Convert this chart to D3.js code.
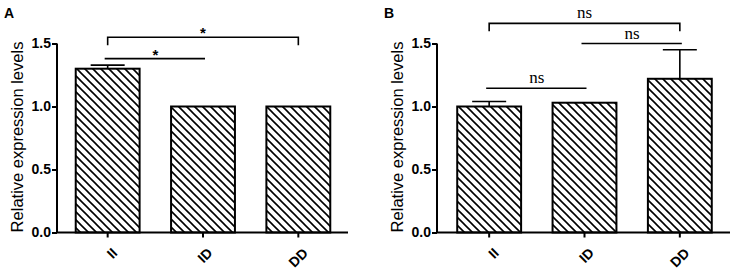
<!DOCTYPE html>
<html><head><meta charset="utf-8">
<script src="https://cdn.jsdelivr.net/npm/d3@7/dist/d3.min.js"></script>
<style>html,body{margin:0;padding:0;background:#fff;}svg{display:block;}</style>
</head><body>
<script>
const categories = ["II", "ID", "DD"];
const yTicks = [0, 0.5, 1.0, 1.5];
const valuesA = [1.30, 1.0, 1.0];
const errorsA = [0.028, 0, 0];
const valuesB = [1.0, 1.03, 1.22];
const errorsB = [0.04, 0, 0.23];
const sigA = [
  {from: "II", to: "DD", label: "*", bracket: true, level: 1.55},
  {from: "II", to: "ID", label: "*", bracket: false, level: 1.38}
];
const sigB = [
  {from: "II", to: "DD", label: "ns", bracket: true, level: 1.66},
  {from: "ID", to: "DD", label: "ns", bracket: false, level: 1.5},
  {from: "II", to: "ID", label: "ns", bracket: false, level: 1.145}
];

const W = 734, H = 275;
const FONT = "'Liberation Sans', Arial, sans-serif";
const svg = d3.select("body").append("svg").attr("width", W).attr("height", H);
const defs = svg.append("defs");
const pat = defs.append("pattern").attr("id", "hatch").attr("patternUnits", "userSpaceOnUse")
  .attr("width", 8).attr("height", 8);
pat.append("rect").attr("width", 8).attr("height", 8).attr("fill", "#fff");
pat.append("path").attr("d", "M-2,-2 L10,10 M-2,6 L2,10 M6,-2 L10,2")
  .attr("stroke", "#000").attr("stroke-width", 1.6);

function panel(opt) {
  const g = svg.append("g");
  const y = d3.scaleLinear().domain([0, 1.5]).range([232.5, 43.5]);
  const x = d3.scaleBand().domain(categories).range([opt.x0, opt.x1]).paddingInner(0.33).paddingOuter(0.165);
  // bars
  g.selectAll("rect.bar").data(categories).join("rect").attr("class", "bar")
    .attr("x", d => x(d)).attr("width", x.bandwidth())
    .attr("y", (d, i) => y(opt.values[i])).attr("height", (d, i) => y(0) - y(opt.values[i]))
    .attr("fill", "url(#hatch)").attr("stroke", "#000").attr("stroke-width", 2);
  // error bars
  categories.forEach((c, i) => {
    if (opt.errors[i] > 0) {
      const cx = x(c) + x.bandwidth() / 2;
      g.append("line").attr("x1", cx).attr("x2", cx).attr("y1", y(opt.values[i])).attr("y2", y(opt.values[i] + opt.errors[i]))
        .attr("stroke", "#000").attr("stroke-width", 1.6);
      g.append("line").attr("x1", cx - 17).attr("x2", cx + 17).attr("y1", y(opt.values[i] + opt.errors[i])).attr("y2", y(opt.values[i] + opt.errors[i]))
        .attr("stroke", "#000").attr("stroke-width", 1.6);
    }
  });
  // y axis
  const ya = g.append("g").attr("transform", `translate(${opt.ax},0)`)
    .call(d3.axisLeft(y).tickValues(yTicks).tickFormat(d3.format(".1f")).tickSize(5).tickSizeOuter(0));
  ya.select(".domain").attr("stroke-width", 2).attr("d", `M0,${y(1.5)}V${y(0)}`);
  ya.selectAll(".tick line").attr("stroke-width", 2);
  ya.selectAll(".tick text").attr("font-family", FONT).attr("font-weight", "bold")
    .attr("font-size", 14).attr("x", -6).attr("fill", "#000");
  // x axis
  const xa = g.append("g").attr("transform", `translate(0,${y(0)})`)
    .call(d3.axisBottom(x).tickSize(5).tickSizeOuter(0));
  xa.select(".domain").attr("stroke-width", 2).attr("d", `M${opt.ax - 1},0H${opt.axEnd}`);
  xa.selectAll(".tick line").attr("stroke-width", 2);
  xa.selectAll(".tick text").attr("font-family", FONT).attr("font-weight", "bold")
    .attr("font-size", 14).attr("fill", "#000")
    .attr("text-anchor", "end").attr("dy", "0.35em")
    .attr("transform", "translate(7,18) rotate(-45)").attr("x", 0).attr("y", 0);
  // y title
  g.append("text").attr("transform", `translate(${opt.ax - 34},${(y(0) + y(1.5)) / 2 - 1}) rotate(-90)`)
    .attr("text-anchor", "middle").attr("font-family", FONT)
    .attr("font-size", 16.5).text("Relative expression levels");
  // panel label
  g.append("text").attr("x", opt.lx).attr("y", 18).attr("font-family", FONT)
    .attr("font-weight", "bold").attr("font-size", 14).text(opt.label);
  // significance
  opt.sig.forEach(s => {
    const xa1 = x(s.from) + x.bandwidth() / 2, xb1 = x(s.to) + x.bandwidth() / 2;
    const yy = y(s.level);
    if (s.bracket) {
      g.append("path").attr("d", `M${xa1},${yy + 8}V${yy}H${xb1}V${yy + 8}`).attr("fill", "none")
        .attr("stroke", "#000").attr("stroke-width", 1.6);
    } else {
      g.append("line").attr("x1", xa1 - 3).attr("x2", xb1 + 2).attr("y1", yy).attr("y2", yy)
        .attr("stroke", "#000").attr("stroke-width", 1.6);
    }
    const t = g.append("text").attr("text-anchor", "middle").text(s.label);
    if (s.label === "*") {
      t.attr("x", (xa1 + xb1) / 2).attr("y", yy - 4).attr("font-family", FONT)
        .attr("font-weight", "bold").attr("font-size", 15).attr("dy", "0.35em");
    } else {
      t.attr("x", (xa1 + xb1) / 2).attr("y", yy - 5)
        .attr("font-family", "'Liberation Serif', 'Times New Roman', serif").attr("font-size", 17);
    }
  });
}

panel({x0: 60, x1: 346, ax: 57, axEnd: 348, values: valuesA, errors: errorsA, sig: sigA, label: "A", lx: 4});
panel({x0: 441.5, x1: 727.5, ax: 437, axEnd: 730, values: valuesB, errors: errorsB, sig: sigB, label: "B", lx: 384});
</script>
</body></html>
